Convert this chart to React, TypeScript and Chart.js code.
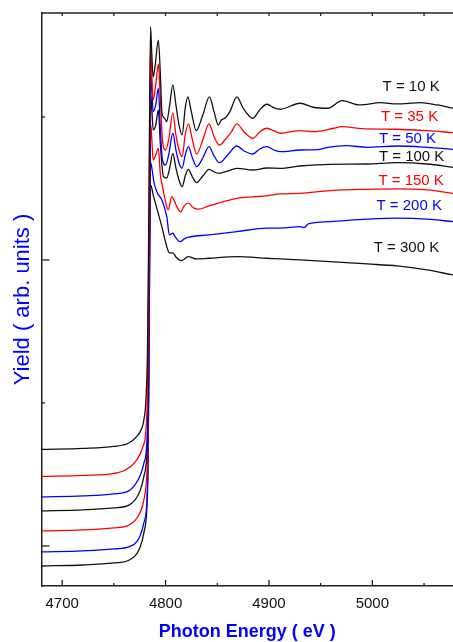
import React, { useEffect, useRef } from 'react';
import { Chart, registerables } from 'chart.js';

Chart.register(...registerables);

// Photon energy (eV) and yield (arb. units) for each temperature
const energy10K = [4680,4720,4750,4764,4772,4777,4779,4781,4782.5,4783.5,4784.5,4785.5,4786.5,4788,4790,4793,4795,4796.5,4799,4801,4804,4807,4810,4813,4816,4819,4821.5,4825,4829.6,4836,4842.4,4847,4851,4854,4857.6,4862,4869,4875,4884.5,4891,4898,4905,4911,4930,4943,4957,4970.6,4988,5007.7,5023.9,5046.4,5062.6,5078];
const yield10K = [0.675,0.682,0.696,0.718,0.764,0.823,0.881,1.021,1.371,2.070,2.979,3.629,3.469,3.280,3.364,3.538,3.294,3.028,2.992,2.967,3.084,3.224,3.084,2.944,2.874,3.062,3.140,3.034,2.904,3.014,3.140,3.034,2.944,2.979,2.993,3.034,3.140,3.062,2.991,3.049,3.089,3.063,3.054,3.096,3.068,3.061,3.114,3.084,3.100,3.091,3.100,3.084,3.061];

const energy35K = [4680,4720,4750,4761,4772,4778,4781,4782.5,4783.5,4784.5,4785.5,4786.5,4788,4790.5,4793,4795,4797,4800,4803,4807,4810,4813,4816,4819,4822,4826,4830,4836,4842,4847,4852,4858,4863,4869,4876,4884.5,4891,4898,4905,4911,4930,4943,4962.5,4970,4994.8,5024,5052.9,5078];
const yield35K = [0.486,0.493,0.507,0.531,0.601,0.694,0.811,1.091,1.720,2.769,3.476,3.329,3.119,3.224,3.371,3.119,2.839,2.769,2.839,3.028,2.874,2.769,2.722,2.874,2.951,2.839,2.741,2.839,2.951,2.860,2.804,2.844,2.888,2.951,2.895,2.851,2.895,2.921,2.902,2.886,2.904,2.897,2.921,2.932,2.916,2.914,2.904,2.890];

const energy50K = [4680,4720,4750,4765.7,4775,4779,4782,4783,4784,4785,4785.7,4786.5,4788,4790.5,4793,4795,4797,4800,4803,4807,4810,4813,4816,4819,4822,4826,4830,4836,4842,4847,4852,4860,4869,4876,4884.5,4891,4898,4905,4911,4930,4949.6,4957,4975.4,4994.8,5024,5052.9,5078];
const yield50K = [0.343,0.350,0.364,0.392,0.485,0.578,0.741,1.021,1.720,2.769,3.315,3.224,3.037,3.084,3.201,2.909,2.699,2.664,2.734,2.886,2.769,2.678,2.641,2.734,2.792,2.713,2.652,2.713,2.792,2.727,2.680,2.734,2.797,2.762,2.741,2.776,2.792,2.769,2.757,2.769,2.774,2.788,2.799,2.788,2.797,2.788,2.774];

const energy100K = [4680,4720,4750,4765,4775,4779,4782,4783,4784,4785,4785.7,4786.5,4788,4790.5,4793,4795,4798,4801,4804,4807,4810,4813,4816,4819,4822,4826,4830,4836,4842,4847,4852,4860,4869,4884.5,4898,4911,4930,4959.4,4994.8,5024,5052.9,5078];
const yield100K = [0.245,0.252,0.266,0.287,0.380,0.485,0.650,0.881,1.720,2.699,3.147,3.084,2.909,2.944,3.049,2.804,2.583,2.573,2.643,2.746,2.643,2.559,2.513,2.587,2.634,2.580,2.541,2.587,2.634,2.615,2.606,2.622,2.641,2.629,2.643,2.641,2.657,2.669,2.671,2.680,2.671,2.648];

const energy150K = [4680,4720,4750,4765,4775,4779,4782,4783,4784,4785,4785.7,4786.5,4788,4790.5,4793,4795,4797,4800,4802.5,4806,4808,4811,4814.5,4818,4822,4827,4832,4842,4855,4869,4884,4898,4911,4930,4959,4995,5024,5053,5078];
const yield150K = [0.105,0.112,0.126,0.147,0.229,0.322,0.510,0.741,1.510,2.629,2.944,2.874,2.699,2.734,2.781,2.594,2.513,2.408,2.350,2.443,2.420,2.371,2.336,2.378,2.397,2.364,2.355,2.378,2.406,2.431,2.441,2.448,2.462,2.466,2.485,2.494,2.497,2.490,2.466];

const energy200K = [4680,4720,4750,4765,4775,4779,4782,4783,4784,4785,4785.7,4787,4789,4792,4796.4,4801.2,4803.7,4807,4809.2,4814,4818,4822,4842,4869,4898,4911,4930,4934,4938,4959,4995,5024,5053,5078];
const yield200K = [-0.042,-0.035,-0.021,-0.005,0.065,0.161,0.322,0.601,1.371,2.490,2.678,2.629,2.536,2.469,2.420,2.303,2.175,2.187,2.163,2.128,2.147,2.159,2.175,2.198,2.222,2.222,2.233,2.226,2.252,2.268,2.285,2.292,2.285,2.268];

const energy300K = [4680,4720,4750,4765,4775,4779,4782,4783,4784,4785,4785.7,4788,4792,4796.4,4801.2,4803.7,4807,4810,4815,4822,4830,4842,4869,4898,4911,4930,4959,4995,5024,5053,5078];
const yield300K = [-0.140,-0.133,-0.119,-0.098,-0.016,0.091,0.275,0.531,1.231,2.420,2.524,2.455,2.350,2.233,2.093,2.049,2.049,2.021,1.995,2.023,2.007,2.012,2.023,2.012,2.007,2.000,1.988,1.972,1.958,1.930,1.895];

const seriesNames = ['T = 10 K', 'T = 35 K', 'T = 50 K', 'T = 100 K', 'T = 150 K', 'T = 200 K', 'T = 300 K'];
const seriesColors = ['#111111', '#ff0000', '#0000ff', '#111111', '#ff0000', '#0000ff', '#111111'];
const seriesEnergies = [energy10K, energy35K, energy50K, energy100K, energy150K, energy200K, energy300K];
const seriesYields = [yield10K, yield35K, yield50K, yield100K, yield150K, yield200K, yield300K];

// label anchor positions (data units)
const labelEnergies = [5037.5, 5036, 5034, 5038, 5037.5, 5035.6, 5033];
const labelYields = [3.21, 2.998, 2.844, 2.722, 2.555, 2.378, 2.082];

const xMin = 4680;
const xMax = 5078;
const yMin = -0.28;
const yMax = 3.727;
const xMajorTicks = [4700, 4800, 4900, 5000];
const xMinorTicks = [4750, 4850, 4950, 5050];
const yMajorTicks = [0, 2];
const yMinorTicks = [1, 3];

const FONT = '"Liberation Sans", Arial, sans-serif';

const framePlugin = {
  id: 'frame',
  afterDatasetsDraw(chart: any) {
    const { ctx, chartArea, scales } = chart;
    const xs = scales.x;
    const ys = scales.y;
    ctx.save();
    ctx.strokeStyle = '#222';
    ctx.lineWidth = 1.5;
    // top border
    ctx.beginPath();
    ctx.moveTo(chartArea.left, chartArea.top);
    ctx.lineTo(chartArea.right, chartArea.top);
    ctx.stroke();
    ctx.lineWidth = 1.3;
    const drawX = (v: number, len: number, topLen: number) => {
      const px = xs.getPixelForValue(v);
      ctx.beginPath();
      ctx.moveTo(px, chartArea.bottom);
      ctx.lineTo(px, chartArea.bottom - len);
      ctx.moveTo(px, chartArea.top);
      ctx.lineTo(px, chartArea.top + topLen);
      ctx.stroke();
    };
    xMajorTicks.forEach((v) => drawX(v, 6, 3));
    xMinorTicks.forEach((v) => drawX(v, 3, 3));
    const drawY = (v: number, len: number) => {
      const py = ys.getPixelForValue(v);
      ctx.beginPath();
      ctx.moveTo(chartArea.left, py);
      ctx.lineTo(chartArea.left + len, py);
      ctx.stroke();
    };
    yMajorTicks.forEach((v) => drawY(v, 8));
    yMinorTicks.forEach((v) => drawY(v, 3.5));

    // series labels
    ctx.font = `15px ${FONT}`;
    ctx.textAlign = 'center';
    ctx.textBaseline = 'middle';
    seriesNames.forEach((name, i) => {
      ctx.fillStyle = seriesColors[i];
      ctx.fillText(name, xs.getPixelForValue(labelEnergies[i]), ys.getPixelForValue(labelYields[i]));
    });
    ctx.restore();
  },
};

export default function App() {
  const canvasRef = useRef<HTMLCanvasElement | null>(null);

  useEffect(() => {
    const canvas = canvasRef.current;
    if (!canvas) return;
    const chart = new Chart(canvas, {
      type: 'line',
      data: {
        datasets: seriesNames.map((name, i) => ({
          label: name,
          data: seriesEnergies[i].map((e, j) => ({ x: e, y: seriesYields[i][j] })),
          borderColor: seriesColors[i],
          borderWidth: 1.3,
          pointRadius: 0,
          fill: false,
          cubicInterpolationMode: 'monotone' as const,
        })),
      },
      options: {
        responsive: false,
        animation: false,
        layout: { padding: { top: 13, right: 0, left: 0, bottom: 0 } },
        plugins: {
          legend: { display: false },
          tooltip: { enabled: false },
        },
        scales: {
          x: {
            type: 'linear',
            min: xMin,
            max: xMax,
            afterBuildTicks: (scale: any) => {
              scale.ticks = xMajorTicks.map((v) => ({ value: v }));
            },
            afterFit: (scale: any) => {
              scale.height = 56;
            },
            ticks: {
              autoSkip: false,
              maxRotation: 0,
              padding: 9,
              color: '#111',
              font: { family: FONT, size: 15 },
              callback: (v: any) => String(v),
            },
            grid: { display: true, drawOnChartArea: false, drawTicks: false },
            border: { display: true, color: '#222', width: 1.5 },
            title: {
              display: true,
              text: 'Photon Energy ( eV )',
              color: '#0000ff',
              font: { family: FONT, size: 18, weight: 'bold', lineHeight: 1 },
              padding: { top: 0, bottom: 1 },
            },
          },
          y: {
            type: 'linear',
            min: yMin,
            max: yMax,
            afterFit: (scale: any) => {
              scale.width = 41.5;
            },
            ticks: { display: false },
            grid: { display: true, drawOnChartArea: false, drawTicks: false },
            border: { display: true, color: '#222', width: 1.5 },
            title: {
              display: true,
              text: 'Yield ( arb. units )',
              color: '#0000ff',
              font: { family: FONT, size: 22, lineHeight: 1 },
              padding: { top: 12, bottom: 0 },
            },
          },
        },
      },
      plugins: [framePlugin],
    });
    return () => chart.destroy();
  }, []);

  return (
    <div style={{ position: 'absolute', left: 0, top: 0, width: 453, height: 642, background: '#fff' }}>
      <canvas ref={canvasRef} width={453} height={642} />
    </div>
  );
}
